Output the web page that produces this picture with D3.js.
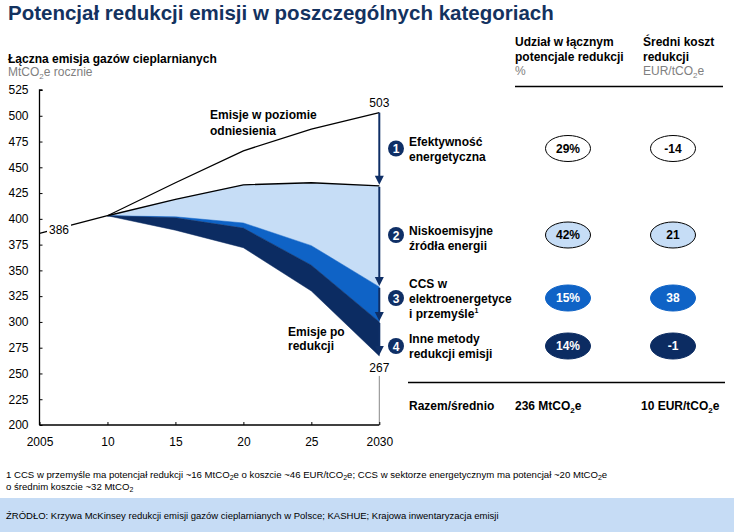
<!DOCTYPE html>
<html>
<head>
<meta charset="utf-8">
<script src="https://cdn.jsdelivr.net/npm/d3@7"></script>
<style>
  html, body { margin: 0; padding: 0; background: #fff; }
  svg { display: block; font-family: "Liberation Sans", Arial, sans-serif; }
</style>
</head>
<body>
<svg id="chart" width="734" height="532"></svg>
<script>
// ---------- DATA ----------
const years = [2005, 2010, 2015, 2020, 2025, 2030];
const baseline = [386, 403, 435, 466, 487, 503];
const afterEfficiency = [null, 403, 419, 433, 435, 432];
const afterLowEmission = [null, 403, 402, 396, 374, 334];
const afterCCS = [null, 403, 401, 391, 355, 300];
const afterOther = [null, 403, 389, 372, 330, 267];

const xTickValues = [2005, 2010, 2015, 2020, 2025, 2030];
const xTickLabels = ["2005", "10", "15", "20", "25", "2030"];
const yTickValues = [200, 225, 250, 275, 300, 325, 350, 375, 400, 425, 450, 475, 500, 525];

const categoryNumbers = ["1", "2", "3", "4"];
const categoryLabels = [
  ["Efektywność", "energetyczna"],
  ["Niskoemisyjne", "źródła energii"],
  ["CCS w", "elektroenergetyce", "i przemyśle"],
  ["Inne metody", "redukcji emisji"]
];
const shares = ["29%", "42%", "15%", "14%"];
const costs = ["-14", "21", "38", "-1"];
const totalLabel = "Razem/średnio";
const totalReduction = "236 MtCO₂e";
const averageCost = "10 EUR/tCO₂e";

// ---------- STYLE / LAYOUT ----------
const navy = "#0f2f66";
const colLight = "#c6ddf6";
const colMid = "#0f63c6";
const colDark = "#0c2c62";
const bandFills = ["#ffffff", colLight, colMid, colDark];
const bandText = ["#000", "#000", "#fff", "#fff"];
const rowY = [148.5, 235, 298, 346];
const labelLineY = [[141.5, 157], [231, 246], [283.5, 299, 314], [338.5, 354]];

const svg = d3.select("#chart");
const font = "Liberation Sans, Arial, sans-serif";

// Title
svg.append("text").attr("x", 8).attr("y", 19.5)
  .attr("font-size", 20.5).attr("font-weight", "bold").attr("fill", "#13325f")
  .text("Potencjał redukcji emisji w poszczególnych kategoriach");

// Axis title
svg.append("text").attr("x", 8).attr("y", 62.5)
  .attr("font-size", 12).attr("font-weight", "bold").attr("fill", "#000")
  .text("Łączna emisja gazów cieplarnianych");
const unit = svg.append("text").attr("x", 8).attr("y", 76)
  .attr("font-size", 12).attr("fill", "#808080");
unit.append("tspan").text("MtCO");
unit.append("tspan").attr("font-size", 8).attr("dy", 3).text("2");
unit.append("tspan").attr("dy", -3).text("e rocznie");

// Scales
const x = d3.scaleLinear().domain([2005, 2030]).range([39.5, 379.3]);
const y = d3.scaleLinear().domain([200, 525]).range([425, 90]);

// Areas
const idx = d3.range(1, years.length);
function band(top, bottom, fill) {
  const area = d3.area()
    .x(i => x(years[i]))
    .y0(i => y(bottom[i]))
    .y1(i => y(top[i]));
  svg.append("path").attr("d", area(idx)).attr("fill", fill).attr("stroke", fill).attr("stroke-width", 0.5);
}
band(afterEfficiency, afterLowEmission, colLight);
band(afterLowEmission, afterCCS, colMid);
band(afterCCS, afterOther, colDark);

// Lines
function drawLine(series, indices) {
  const lineGen = d3.line().x(i => x(years[i])).y(i => y(series[i]));
  svg.append("path").attr("d", lineGen(indices)).attr("fill", "none")
    .attr("stroke", "#000").attr("stroke-width", 1.3);
}
drawLine(baseline, d3.range(0, years.length));
drawLine(afterEfficiency, idx);

// vertical grey line at 2030 below 267
svg.append("line").attr("x1", x(2030)).attr("x2", x(2030))
  .attr("y1", y(afterOther[5]) + 20).attr("y2", y(200))
  .attr("stroke", "#888").attr("stroke-width", 1);

// Axes
const yAxis = d3.axisLeft(y).tickValues(yTickValues).tickSize(-3).tickPadding(11);
const gy = svg.append("g").attr("transform", `translate(${x(2005)},0)`).call(yAxis);
const xAxis = d3.axisBottom(x).tickValues(xTickValues).tickSize(-3).tickPadding(12)
  .tickFormat((d, i) => xTickLabels[i]);
const gx = svg.append("g").attr("transform", `translate(0,${y(200)})`).call(xAxis);
[gx, gy].forEach(g => {
  g.select(".domain").attr("stroke", "#000").attr("stroke-width", 1.3);
  g.selectAll(".tick line").attr("stroke", "#000").attr("stroke-width", 1);
  g.selectAll(".tick text").attr("font-size", 12).attr("font-family", font).attr("fill", "#000");
});
gx.select(".domain").attr("d", `M${x(2005)},0H${x(2030)}`);
gy.select(".domain").attr("d", `M0,${y(200)}V${y(525)}H3`);

// 386 label with white background
svg.append("rect").attr("x", 47).attr("y", y(baseline[0]) - 10).attr("width", 24).attr("height", 14).attr("fill", "#fff");
svg.append("text").attr("x", 49).attr("y", y(baseline[0]) + 1)
  .attr("font-size", 12).attr("fill", "#000").text(String(baseline[0]));

// 503 & 267 labels
svg.append("text").attr("x", x(2030)).attr("y", y(baseline[5]) - 6)
  .attr("text-anchor", "middle").attr("font-size", 12).text(String(baseline[5]));
svg.append("text").attr("x", x(2030)).attr("y", y(afterOther[5]) + 16)
  .attr("text-anchor", "middle").attr("font-size", 12).text(String(afterOther[5]));

// Curve labels
const lbl1 = svg.append("text").attr("font-size", 12).attr("font-weight", "bold").attr("fill", "#000");
lbl1.append("tspan").attr("x", 210).attr("y", 119).text("Emisje w poziomie");
lbl1.append("tspan").attr("x", 210).attr("y", 134.5).text("odniesienia");
const lbl2 = svg.append("text").attr("font-size", 12).attr("font-weight", "bold").attr("fill", "#000");
lbl2.append("tspan").attr("x", 288).attr("y", 335.5).text("Emisje po");
lbl2.append("tspan").attr("x", 288).attr("y", 350).text("redukcji");

// Arrows at 2030
const stops = [baseline[5], afterEfficiency[5], afterLowEmission[5], afterCCS[5], afterOther[5]];
for (let i = 0; i < 4; i++) {
  const y0 = y(stops[i]) + (i === 0 ? 0 : 1);
  const y1 = y(stops[i + 1]) - 1;
  const ax = x(2030);
  svg.append("line").attr("x1", ax).attr("x2", ax).attr("y1", y0).attr("y2", y1 - 6)
    .attr("stroke", navy).attr("stroke-width", 2);
  svg.append("path").attr("d", `M${ax - 4.5},${y1 - 9}L${ax + 4.5},${y1 - 9}L${ax},${y1}Z`).attr("fill", navy);
}

// Right-hand table header
const h1 = svg.append("text").attr("font-size", 12).attr("font-weight", "bold");
h1.append("tspan").attr("x", 515).attr("y", 46).text("Udział w łącznym");
h1.append("tspan").attr("x", 515).attr("y", 60.5).text("potencjale redukcji");
svg.append("text").attr("x", 515).attr("y", 75).attr("font-size", 12).attr("fill", "#808080").text("%");
const h2 = svg.append("text").attr("font-size", 12).attr("font-weight", "bold");
h2.append("tspan").attr("x", 643).attr("y", 46).text("Średni koszt");
h2.append("tspan").attr("x", 643).attr("y", 60.5).text("redukcji");
const u2 = svg.append("text").attr("x", 643).attr("y", 75).attr("font-size", 12).attr("fill", "#808080");
u2.append("tspan").text("EUR/tCO");
u2.append("tspan").attr("font-size", 8).attr("dy", 3).text("2");
u2.append("tspan").attr("dy", -3).text("e");
svg.append("line").attr("x1", 515).attr("x2", 723).attr("y1", 86.5).attr("y2", 86.5)
  .attr("stroke", "#000").attr("stroke-width", 1.3);

// Rows
categoryNumbers.forEach((n, i) => {
  svg.append("circle").attr("cx", 396).attr("cy", rowY[i]).attr("r", 8).attr("fill", navy);
  svg.append("text").attr("x", 396).attr("y", rowY[i] + 4.5).attr("text-anchor", "middle")
    .attr("font-size", 12).attr("font-weight", "bold").attr("fill", "#fff").text(n);
  const t = svg.append("text").attr("font-size", 12).attr("font-weight", "bold").attr("fill", "#000");
  categoryLabels[i].forEach((line, j) => {
    t.append("tspan").attr("x", 409).attr("y", labelLineY[i][j] + 4.2).text(line);
    if (i === 2 && j === 2) {
      t.append("tspan").attr("font-size", 7).attr("dy", -5).text("1");
    }
  });
  [[568, shares[i]], [673, costs[i]]].forEach(([cx, val]) => {
    svg.append("ellipse").attr("cx", cx).attr("cy", rowY[i]).attr("rx", 22.5).attr("ry", 13)
      .attr("fill", bandFills[i])
      .attr("stroke", i < 2 ? "#000" : bandFills[i]).attr("stroke-width", 1);
    svg.append("text").attr("x", cx).attr("y", rowY[i] + 4.3).attr("text-anchor", "middle")
      .attr("font-size", 12).attr("font-weight", "bold").attr("fill", bandText[i]).text(val);
  });
});

// Total row
svg.append("line").attr("x1", 408).attr("x2", 725).attr("y1", 382.5).attr("y2", 382.5)
  .attr("stroke", "#000").attr("stroke-width", 1.3);
function subText(xp, yp, parts) {
  const t = svg.append("text").attr("x", xp).attr("y", yp).attr("font-size", 12).attr("font-weight", "bold");
  parts.forEach(p => {
    const ts = t.append("tspan").text(p.t);
    if (p.sub) ts.attr("font-size", 8).attr("dy", 3);
    if (p.back) ts.attr("dy", -3);
  });
}
svg.append("text").attr("x", 409).attr("y", 410).attr("font-size", 12).attr("font-weight", "bold").text(totalLabel);
subText(515, 410, totalReduction.split("₂").flatMap((s, k) => k === 0 ? [{t: s}] : [{t: "2", sub: true}, {t: s, back: true}]));
subText(641, 410, averageCost.split("₂").flatMap((s, k) => k === 0 ? [{t: s}] : [{t: "2", sub: true}, {t: s, back: true}]));

// Footnote
const fn1 = svg.append("text").attr("x", 6).attr("y", 478).attr("font-size", 9.6).attr("fill", "#000");
[["1 CCS w przemyśle ma potencjał redukcji ~16 MtCO"], ["2", 1], ["e o koszcie ~46 EUR/tCO", -1], ["2", 1], ["e; CCS w sektorze energetycznym ma potencjał ~20 MtCO", -1], ["2", 1], ["e", -1]]
  .forEach(([s, d]) => {
    const ts = fn1.append("tspan").text(s);
    if (d === 1) ts.attr("font-size", 7).attr("dy", 2);
    if (d === -1) ts.attr("dy", -2);
  });
const fn2 = svg.append("text").attr("x", 6).attr("y", 490).attr("font-size", 9.6).attr("fill", "#000");
fn2.append("tspan").text("o średnim koszcie ~32 MtCO");
fn2.append("tspan").attr("font-size", 7).attr("dy", 2).text("2");

// Source band
svg.append("rect").attr("x", 0).attr("y", 498).attr("width", 734).attr("height", 34).attr("fill", "#c6dcf5");
svg.append("text").attr("x", 6).attr("y", 519).attr("font-size", 9.5).attr("fill", "#000")
  .text("ŹRÓDŁO: Krzywa McKinsey redukcji emisji gazów cieplarnianych w Polsce; KASHUE; Krajowa inwentaryzacja emisji");
</script>
</body>
</html>
